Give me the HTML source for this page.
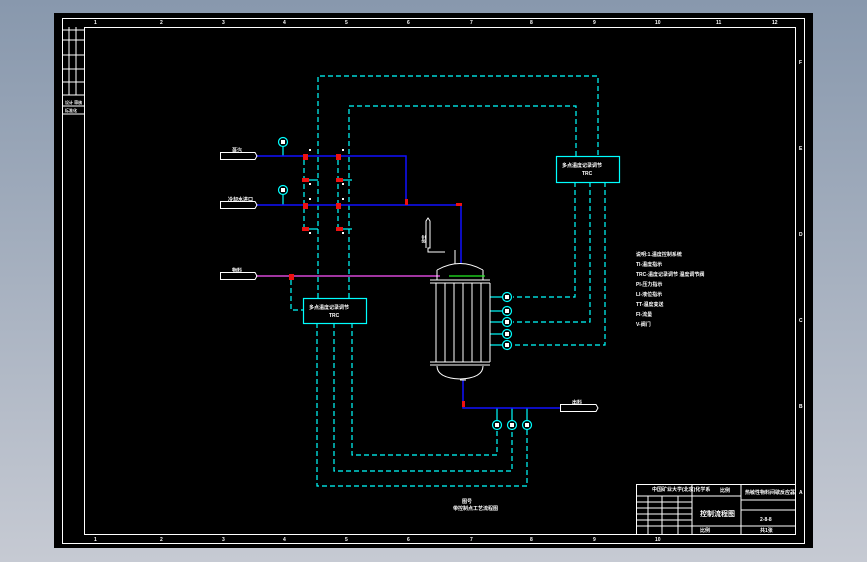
<!DOCTYPE html>
<html><head><meta charset="utf-8"><style>
html,body{margin:0;padding:0;width:867px;height:562px;overflow:hidden;background:linear-gradient(#8898ad,#c6cad3);}
svg{display:block}
text{font-family:"Liberation Sans","Noto Sans CJK SC",sans-serif;fill:#fff;font-weight:bold}
</style></head><body>
<svg width="867" height="562" viewBox="0 0 867 562" xmlns="http://www.w3.org/2000/svg">
<rect x="54" y="13" width="759" height="535" fill="#000"/>
<g fill="none" stroke="#fff" stroke-width="1">
<rect x="62.5" y="18.5" width="742" height="525"/>
<rect x="84.5" y="27.5" width="711" height="507"/>
<line x1="62" y1="30" x2="84" y2="30"/>
<line x1="62" y1="40" x2="84" y2="40"/><line x1="62" y1="55" x2="84" y2="55"/><line x1="62" y1="69" x2="84" y2="69"/><line x1="62" y1="82" x2="84" y2="82"/><line x1="62" y1="95" x2="84" y2="95"/><line x1="62" y1="106" x2="84" y2="106"/><line x1="62" y1="114" x2="84" y2="114"/>
<line x1="69" y1="27" x2="69" y2="95"/><line x1="76" y1="27" x2="76" y2="95"/>
</g>
<g fill="#fff" font-size="5">
<text x="94" y="24">1</text><text x="160" y="24">2</text><text x="222" y="24">3</text><text x="283" y="24">4</text><text x="345" y="24">5</text><text x="407" y="24">6</text><text x="470" y="24">7</text><text x="530" y="24">8</text><text x="593" y="24">9</text><text x="655" y="24">10</text><text x="716" y="24">11</text><text x="772" y="24">12</text>
<text x="94" y="541">1</text><text x="160" y="541">2</text><text x="222" y="541">3</text><text x="283" y="541">4</text><text x="345" y="541">5</text><text x="407" y="541">6</text><text x="470" y="541">7</text><text x="530" y="541">8</text><text x="593" y="541">9</text><text x="655" y="541">10</text>
<text x="799" y="64">F</text><text x="799" y="150">E</text><text x="799" y="236">D</text><text x="799" y="322">C</text><text x="799" y="408">B</text><text x="799" y="494">A</text>
<text x="65" y="104" font-size="4">设计 审核</text><text x="65" y="112" font-size="4">标准化</text>
</g>
<g fill="none" stroke="#00ffff" stroke-width="1.2" stroke-dasharray="5,3">
<polyline points="318,298 318,76 598,76 598,156"/>
<polyline points="349,298 349,106 576,106 576,156"/>
<polyline points="575,182 575,297 513,297"/>
<polyline points="590,182 590,322 513,322"/>
<polyline points="605,182 605,345 513,345"/>
<polyline points="317,323 317,486 527,486 527,430"/>
<polyline points="334,323 334,471 512,471 512,430"/>
<polyline points="352,323 352,455 497,455 497,430"/>
<polyline points="291,280 291,310 303,310"/>
<line x1="304" y1="160" x2="304" y2="230"/><line x1="338" y1="160" x2="338" y2="230"/>
</g>
<g stroke="#00ffff" stroke-width="1.2" fill="none">
<rect x="556.5" y="156.5" width="63" height="26"/>
<rect x="303.5" y="298.5" width="63" height="25"/>
<line x1="283" y1="147" x2="283" y2="156"/><line x1="283" y1="195" x2="283" y2="205"/>
<line x1="490" y1="297" x2="503" y2="297"/><line x1="490" y1="311" x2="503" y2="311"/><line x1="490" y1="322" x2="503" y2="322"/><line x1="490" y1="334" x2="503" y2="334"/><line x1="490" y1="345" x2="503" y2="345"/>
<line x1="497" y1="408" x2="497" y2="422"/><line x1="512" y1="408" x2="512" y2="422"/><line x1="527" y1="408" x2="527" y2="422"/>
<line x1="304" y1="180" x2="318" y2="180"/><line x1="338" y1="180" x2="352" y2="180"/><line x1="304" y1="229" x2="318" y2="229"/><line x1="338" y1="229" x2="352" y2="229"/>
</g>
<g fill="#000" stroke="#00ffff" stroke-width="1.2">
<circle cx="283" cy="142" r="4.5"/><circle cx="283" cy="190" r="4.5"/>
<circle cx="507" cy="297" r="4.5"/><circle cx="507" cy="311" r="4.5"/><circle cx="507" cy="322" r="4.5"/><circle cx="507" cy="334" r="4.5"/><circle cx="507" cy="345" r="4.5"/>
<circle cx="497" cy="425" r="4.5"/><circle cx="512" cy="425" r="4.5"/><circle cx="527" cy="425" r="4.5"/>
</g>
<g fill="#fff">
<rect x="281" y="140" width="4" height="4"/><rect x="281" y="188" width="4" height="4"/>
<rect x="505" y="295" width="4" height="4"/><rect x="505" y="309" width="4" height="4"/><rect x="505" y="320" width="4" height="4"/><rect x="505" y="332" width="4" height="4"/><rect x="505" y="343" width="4" height="4"/>
<rect x="495" y="423" width="4" height="4"/><rect x="510" y="423" width="4" height="4"/><rect x="525" y="423" width="4" height="4"/>
<rect x="309" y="149" width="2" height="2"/><rect x="342" y="149" width="2" height="2"/><rect x="309" y="198" width="2" height="2"/><rect x="342" y="198" width="2" height="2"/>
<rect x="309" y="183" width="2" height="2"/><rect x="342" y="183" width="2" height="2"/><rect x="309" y="232" width="2" height="2"/><rect x="342" y="232" width="2" height="2"/>
</g>
<g fill="none" stroke="#1010ff" stroke-width="1.5">
<polyline points="256,156 406,156 406,200"/>
<polyline points="256,205 461,205 461,264"/>
<polyline points="463,380 463,408 560,408"/>
</g>
<line x1="256" y1="276" x2="440" y2="276" stroke="#ff55ff" stroke-width="1.2"/>
<g fill="#ee1111">
<rect x="303" y="154" width="5" height="6"/><rect x="336" y="154" width="5" height="6"/>
<rect x="303" y="203" width="5" height="6"/><rect x="336" y="203" width="5" height="6"/>
<rect x="302" y="178" width="7" height="4"/><rect x="336" y="178" width="7" height="4"/>
<rect x="302" y="227" width="7" height="4"/><rect x="336" y="227" width="7" height="4"/>
<rect x="405" y="199" width="3" height="6"/><rect x="456" y="203" width="6" height="3"/>
<rect x="289" y="274" width="5" height="6"/><rect x="462" y="401" width="3" height="6"/>
</g>
<g fill="none" stroke="#fff" stroke-width="1">
<polygon points="220.5,152.5 255,152.5 257,156 255,159.5 220.5,159.5"/>
<polygon points="220.5,201.5 255,201.5 257,205 255,208.5 220.5,208.5"/>
<polygon points="220.5,272.5 255,272.5 257,276 255,279.5 220.5,279.5"/>
<polygon points="560.5,404.5 596,404.5 598,408 596,411.5 560.5,411.5"/>
<path d="M437,270 Q460,257 483,270"/>
<line x1="430" y1="280" x2="490" y2="280"/><line x1="430" y1="283" x2="490" y2="283"/>
<line x1="430" y1="362" x2="490" y2="362"/><line x1="430" y1="365" x2="490" y2="365"/>
<path d="M437,366 Q437,378 460,379 Q483,378 483,366"/>
<line x1="437" y1="270" x2="437" y2="280"/><line x1="483" y1="270" x2="483" y2="280"/>
<line x1="436" y1="283" x2="436" y2="362"/><line x1="445" y1="283" x2="445" y2="362"/><line x1="454" y1="283" x2="454" y2="362"/><line x1="463" y1="283" x2="463" y2="362"/><line x1="472" y1="283" x2="472" y2="362"/><line x1="481" y1="283" x2="481" y2="362"/><line x1="490" y1="283" x2="490" y2="362"/>
<path d="M426,248 L426,221 L428,218 L430,221 L430,248 L428,248 L428,252 L445,252"/>
<line x1="455" y1="250" x2="455" y2="264"/><line x1="460" y1="380" x2="466" y2="380"/>
</g>
<line x1="449" y1="276" x2="485" y2="276" stroke="#22ee22" stroke-width="1.2"/>
<g font-size="5">
<text x="232" y="152">蒸汽</text><text x="228" y="201">冷却水进口</text><text x="232" y="272">物料</text><text x="572" y="404">出料</text>
<text x="562" y="167">多点温度记录调节</text><text x="582" y="175">TRC</text>
<text x="309" y="309">多点温度记录调节</text><text x="329" y="317">TRC</text>
<text x="418" y="244" font-size="4" transform="rotate(-90 421 240)">放空</text>
<text x="636" y="256">说明:1.温度控制系统</text><text x="636" y="266">TI-温度指示</text><text x="636" y="276">TRC-温度记录调节 温度调节阀</text><text x="636" y="286">PI-压力指示</text><text x="636" y="296">LI-液位指示</text><text x="636" y="306">TT-温度变送</text><text x="636" y="316">FI-流量</text><text x="636" y="326">V-阀门</text>
<text x="462" y="503">图号</text><text x="453" y="510">带控制点工艺流程图</text>
</g>
<g fill="none" stroke="#fff" stroke-width="1">
<rect x="636.5" y="484.5" width="159" height="50"/>
<line x1="636" y1="496" x2="741" y2="496"/><line x1="692" y1="484" x2="692" y2="534"/><line x1="741" y1="484" x2="741" y2="534"/>
<line x1="636" y1="502" x2="692" y2="502"/><line x1="636" y1="508" x2="692" y2="508"/><line x1="636" y1="514" x2="692" y2="514"/><line x1="636" y1="520" x2="692" y2="520"/><line x1="636" y1="526" x2="795" y2="526"/>
<line x1="648" y1="496" x2="648" y2="534"/><line x1="662" y1="496" x2="662" y2="534"/><line x1="678" y1="496" x2="678" y2="534"/>
<line x1="741" y1="500" x2="795" y2="500"/><line x1="741" y1="510" x2="795" y2="510"/>
</g>
<g font-size="5">
<text x="652" y="491">中国矿业大学(北京)化学系</text><text x="720" y="492">比例</text><text x="745" y="494">热敏性物料间歇反应器</text>
<text x="700" y="516" font-size="7">控制流程图</text><text x="760" y="521">2-8-8</text>
<text x="700" y="532">比例</text><text x="760" y="532">共1张</text>
</g>
</svg>
</body></html>
